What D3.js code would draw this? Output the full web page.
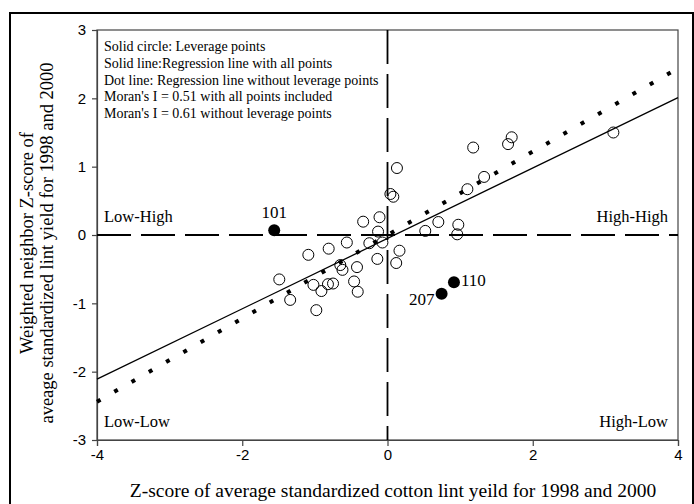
<!DOCTYPE html>
<html>
<head>
<meta charset="utf-8">
<script src="https://cdn.jsdelivr.net/npm/d3@7"></script>
<style>
  html, body { margin: 0; padding: 0; background: #fff; }
  svg { display: block; }
</style>
</head>
<body>
<svg id="chart" width="694" height="504"></svg>
<script>
// ---- data ----
const openX = [1.18, 1.71, 1.66, 3.11, 1.33, 1.10, 0.70, 0.52, 0.975, 0.96, 0.13, 0.04, 0.08,
  -0.335, -0.11, -0.13, -0.56, -0.81, -1.09, -0.25, -0.07, 0.165, -0.14, 0.12, -0.42,
  -1.49, -1.34, -1.02, -0.91, -0.82, -0.75, -0.98, -0.65, -0.62, -0.46, -0.41];
const openY = [1.28, 1.43, 1.33, 1.50, 0.85, 0.67, 0.19, 0.06, 0.15, 0.01, 0.98, 0.60, 0.56,
  0.195, 0.26, 0.05, -0.11, -0.20, -0.29, -0.12, -0.11, -0.23, -0.35, -0.41, -0.47,
  -0.65, -0.95, -0.73, -0.82, -0.72, -0.71, -1.10, -0.44, -0.51, -0.68, -0.83];
const leverageX = [-1.56, 0.915, 0.745];
const leverageY = [0.07, -0.69, -0.86];
const leverageLabels = ["101", "110", "207"];
const solidLineX = [-4, 4];
const solidLineY = [-2.11, 2.01];
const dotLineX = [-4, 4];
const dotLineY = [-2.44, 2.44];
const xTicks = [-4, -2, 0, 2, 4];
const yTicks = [-3, -2, -1, 0, 1, 2, 3];
const legendLines = [
  "Solid circle: Leverage points",
  "Solid line:Regression line with all points",
  "Dot line: Regression line without leverage points",
  "Moran's I = 0.51 with all points included",
  "Moran's I = 0.61 without leverage points"
];
const quadrantLabels = ["Low-High", "High-High", "Low-Low", "High-Low"];
const xTitle = "Z-score of average standardized cotton lint yeild for 1998 and 2000";
const yTitle = ["Weighted neighbor Z-score of", "aveage standardized lint yield for 1998 and 2000"];

// ---- layout ----
const svg = d3.select("#chart");
const L = 97, R = 678, T = 30, B = 440;
const x = d3.scaleLinear().domain([-4, 4]).range([L, R]);
const y = d3.scaleLinear().domain([-3, 3]).range([B, T]);
const serif = "'Liberation Serif', 'Times New Roman', serif";
const sans = "'Liberation Sans', Arial, sans-serif";

// outer border
svg.append("rect").attr("x", 10).attr("y", 13).attr("width", 683).attr("height", 520)
  .attr("fill", "none").attr("stroke", "#000").attr("stroke-width", 2);

// plot frame
svg.append("rect").attr("x", L).attr("y", T).attr("width", R - L).attr("height", B - T)
  .attr("fill", "none").attr("stroke", "#444").attr("stroke-width", 1.2);

// axes
const xAxis = d3.axisBottom(x).tickValues(xTicks).tickSize(6).tickPadding(3).tickFormat(d3.format("d"));
const yAxis = d3.axisLeft(y).tickValues(yTicks).tickSize(5).tickPadding(6).tickFormat(d3.format("d"));
const gx = svg.append("g").attr("transform", `translate(0,${B})`).call(xAxis);
const gy = svg.append("g").attr("transform", `translate(${L},0)`).call(yAxis);
[gx, gy].forEach(g => {
  g.select(".domain").attr("stroke", "#444").attr("stroke-width", 1.2);
  g.selectAll(".tick line").attr("stroke", "#444").attr("stroke-width", 1.2);
  g.selectAll(".tick text").attr("font-family", sans).attr("font-size", 15).attr("fill", "#000");
});
gx.selectAll(".tick text").text(d => d < 0 ? "-" + Math.abs(d) : d);
gy.selectAll(".tick text").text(d => d < 0 ? "-" + Math.abs(d) : d);

// quadrant dashed lines
svg.append("line").attr("x1", x(0)).attr("x2", x(0)).attr("y1", y(3)).attr("y2", y(-3))
  .attr("stroke", "#000").attr("stroke-width", 1.8).attr("stroke-dasharray", "34,10");
svg.append("line").attr("x1", x(-4)).attr("x2", x(4)).attr("y1", y(0)).attr("y2", y(0))
  .attr("stroke", "#000").attr("stroke-width", 1.8).attr("stroke-dasharray", "34,10");

// regression lines
const lineGen = d3.line().x(d => x(d[0])).y(d => y(d[1]));
svg.append("path").datum(d3.zip(solidLineX, solidLineY)).attr("d", lineGen)
  .attr("fill", "none").attr("stroke", "#000").attr("stroke-width", 1.3);
svg.append("path").datum(d3.zip(dotLineX, dotLineY)).attr("d", lineGen)
  .attr("fill", "none").attr("stroke", "#000").attr("stroke-width", 4)
  .attr("stroke-dasharray", "4,15.92");

// open circles
svg.append("g").selectAll("circle").data(d3.zip(openX, openY)).join("circle")
  .attr("cx", d => x(d[0])).attr("cy", d => y(d[1])).attr("r", 5.5)
  .attr("fill", "none").attr("stroke", "#000").attr("stroke-width", 1);

// leverage points
const lev = d3.zip(leverageX, leverageY, leverageLabels);
svg.append("g").selectAll("circle").data(lev).join("circle")
  .attr("cx", d => x(d[0])).attr("cy", d => y(d[1])).attr("r", 6).attr("fill", "#000");
const labelOffsets = { "101": [0, -12, "middle"], "110": [7, 4, "start"], "207": [-7, 11, "end"] };
svg.append("g").selectAll("text").data(lev).join("text")
  .attr("x", d => x(d[0]) + labelOffsets[d[2]][0])
  .attr("y", d => y(d[1]) + labelOffsets[d[2]][1])
  .attr("text-anchor", d => labelOffsets[d[2]][2])
  .attr("font-family", serif).attr("font-size", 17).text(d => d[2]);

// quadrant labels
const qPos = [[104, 222, "start"], [668, 222, "end"], [104, 427, "start"], [668, 427, "end"]];
svg.append("g").selectAll("text").data(quadrantLabels).join("text")
  .attr("x", (d, i) => qPos[i][0]).attr("y", (d, i) => qPos[i][1])
  .attr("text-anchor", (d, i) => qPos[i][2])
  .attr("font-family", serif).attr("font-size", 16.5).text(d => d);

// legend text
svg.append("g").selectAll("text").data(legendLines).join("text")
  .attr("x", 104).attr("y", (d, i) => 51 + i * 16.8)
  .attr("font-family", serif).attr("font-size", 14).text(d => d);

// axis titles
svg.append("text").attr("x", 393).attr("y", 497).attr("text-anchor", "middle")
  .attr("font-family", serif).attr("font-size", 19.5).text(xTitle);
svg.append("g").attr("transform", "translate(0,243) rotate(-90)")
  .selectAll("text").data(yTitle).join("text")
  .attr("x", 0).attr("y", (d, i) => 33 + i * 20).attr("text-anchor", "middle")
  .attr("font-family", serif).attr("font-size", 18.5).text(d => d);
</script>
</body>
</html>
